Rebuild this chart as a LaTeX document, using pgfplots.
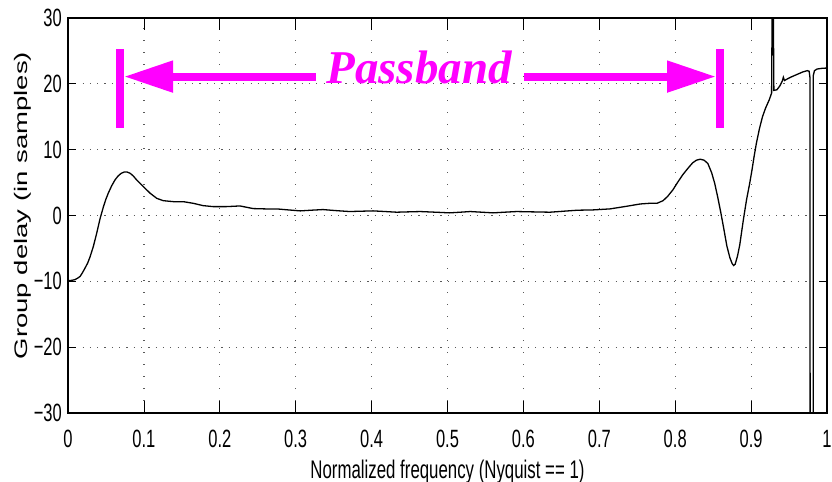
\documentclass[border=0pt]{standalone}
\usepackage{fontspec}
\setmainfont{Liberation Sans}
\newfontfamily\pbfont{Liberation Serif}
\usepackage{graphicx}
\usepackage{pgfplots}
\pgfplotsset{compat=1.18}
\usetikzlibrary{arrows.meta,calc}
\definecolor{mag}{RGB}{255,0,255}
% MATLAB export was squeezed horizontally
\newcommand\sq[1]{\scalebox{0.66}[1]{#1}}

\pgfplotstableread{
x y
0 -9.9
0.005 -9.85
0.009 -9.75
0.013 -9.5
0.016 -9.25
0.019 -8.7
0.0224 -8.0
0.026 -7.2
0.029 -6.3
0.0334 -4.7
0.0378 -2.7
0.0422 -0.5
0.0466 1.3
0.050 2.5
0.0531 3.4
0.0575 4.5
0.0619 5.4
0.066 6.0
0.070 6.4
0.074 6.6
0.078 6.6
0.082 6.4
0.086 6.0
0.0905 5.4
0.0992 4.4
0.108 3.4
0.117 2.6
0.1256 2.25
0.139 2.1
0.152 2.1
0.165 1.85
0.178 1.5
0.191 1.35
0.209 1.35
0.2266 1.45
0.244 1.05
0.26 1.0
0.275 1.0
0.29 0.85
0.306 0.7
0.32 0.8
0.336 0.9
0.352 0.75
0.371 0.6
0.386 0.65
0.402 0.7
0.418 0.6
0.433 0.5
0.448 0.55
0.464 0.6
0.484 0.5
0.503 0.4
0.517 0.5
0.53 0.6
0.545 0.5
0.56 0.4
0.575 0.5
0.591 0.6
0.612 0.55
0.635 0.5
0.653 0.65
0.671 0.8
0.692 0.85
0.714 1.0
0.736 1.4
0.754 1.75
0.766 1.85
0.776 1.85
0.784 2.25
0.790 2.9
0.797 3.9
0.803 5.0
0.81 6.2
0.817 7.2
0.823 8.0
0.828 8.4
0.833 8.55
0.838 8.4
0.843 7.9
0.848 6.5
0.852 4.9
0.856 2.8
0.860 0.5
0.864 -2.0
0.868 -4.6
0.872 -6.4
0.875 -7.3
0.877 -7.6
0.879 -7.4
0.882 -6.2
0.885 -4.5
0.8875 -2.5
0.890 -0.5
0.894 2.4
0.898 4.8
0.901 6.8
0.904 9.0
0.907 11.0
0.911 13.2
0.915 15.0
0.919 16.3
0.924 17.6
0.927 18.6
0.9285 45
0.9300 19.0
0.934 19.1
0.938 19.7
0.941 20.4
0.9425 21.0
0.944 20.5
0.947 20.7
0.952 21.0
0.96 21.4
0.968 21.8
0.974 22.0
0.9765 21.9
0.9775 21.0
0.9778 -40
0.9818 -40
0.982 21.3
0.9835 22.0
0.987 22.25
0.993 22.35
1.0 22.4
}\gdelay

\begin{document}
\begin{tikzpicture}
\begin{axis}[
  name=ax,
  scale only axis,
  width=759pt, height=395pt,
  xmin=0, xmax=1, ymin=-30, ymax=30,
  xtick={0,0.1,0.2,0.3,0.4,0.5,0.6,0.7,0.8,0.9,1},
  xticklabels={\sq{0},\sq{0.1},\sq{0.2},\sq{0.3},\sq{0.4},\sq{0.5},\sq{0.6},\sq{0.7},\sq{0.8},\sq{0.9},\sq{1}},
  ytick={-30,-20,-10,0,10,20,30},
  yticklabels={\sq{−30},\sq{−20},\sq{−10},\sq{0},\sq{10},\sq{20},\sq{30}},
  tick align=inside,
  xtick style={/pgfplots/major tick length=12pt},
  ytick style={/pgfplots/major tick length=8pt},
  tick style={black, line width=0.8pt},
  axis line style={line width=1.6pt},
  grid=major,
  x grid style={black!65, line width=1.2pt, dash pattern=on 1.4pt off 10.6pt},
  y grid style={black!65, line width=1.2pt, dash pattern=on 1.2pt off 6.1pt},
  tick label style={font=\fontsize{25}{25}\selectfont, inner sep=0pt},
  xticklabel style={yshift=-17pt},
  yticklabel style={xshift=-6pt},
  xlabel={\sq{Normalized frequency (Nyquist == 1)}},
  ylabel={\scalebox{1}[0.66]{Group delay (in samples)}},
  xlabel style={font=\fontsize{25.5}{25.5}\selectfont, inner sep=0pt,
    at={(axis description cs:0.5,-0.1646)}, anchor=base},
  ylabel style={font=\fontsize{27.5}{27.5}\selectfont, inner sep=0pt,
    at={(axis description cs:-0.054,0.525)}, anchor=base},
]
\addplot[black, line width=1.3pt] table[x=x, y=y] {\gdelay};

% passband annotation
\draw[mag, line width=8pt] (axis cs:0.0685,13.3) -- (axis cs:0.0685,25.3);
\draw[mag, line width=8pt] (axis cs:0.859,13.3) -- (axis cs:0.859,25.3);
\draw[mag, line width=8pt, -{Triangle[length=49pt,width=30pt]}]
  (axis cs:0.3267,21.1) -- (axis cs:0.0738,21.1);
\draw[mag, line width=8pt, -{Triangle[length=49pt,width=30pt]}]
  (axis cs:0.6008,21.1) -- (axis cs:0.8538,21.1);
\node[font=\pbfont\bfseries\itshape\fontsize{47}{47}\selectfont, text=mag,
  anchor=base, inner sep=0pt] at (axis cs:0.4625,20.1) {Passband};
\end{axis}
\pgfresetboundingbox
\path ($(ax.south west)+(-68pt,-69pt)$) rectangle ($(ax.north east)+(5pt,18pt)$);
\end{tikzpicture}
\end{document}
